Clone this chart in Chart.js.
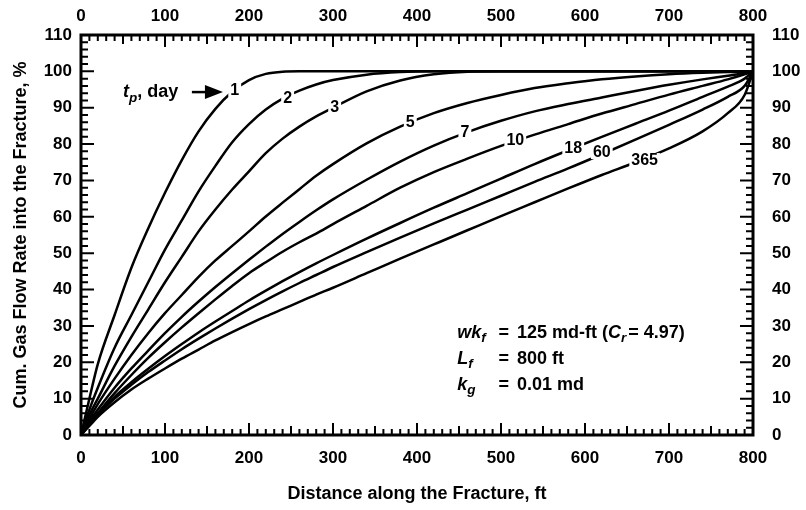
<!DOCTYPE html>
<html>
<head>
<meta charset="utf-8">
<script src="https://cdn.jsdelivr.net/npm/chart.js@4/dist/chart.umd.min.js"></script>
<style>
  html, body { margin: 0; padding: 0; background: #fff; }
  #wrap { width: 806px; height: 510px; }
</style>
</head>
<body>
<div id="wrap"><canvas id="chart" width="806" height="510"></canvas></div>
<script>
// distance along the fracture, ft (shared grid for every curve)
const distanceFt = [0, 10, 20, 40, 60, 80, 100, 120, 140, 160, 180, 200, 220, 240, 260, 280, 300,
  340, 380, 420, 460, 500, 540, 580, 620, 660, 700, 740, 770, 790, 800]

// cumulative gas flow rate into the fracture, % — one array per producing time
const rateDay1 = [0, 10, 19.5, 33, 46, 56.8, 66.6, 75.6, 83.5, 89.7, 94.4, 97.6, 99.3, 99.9, 100, 100, 100,
  100, 100, 100, 100, 100, 100, 100, 100, 100, 100, 100, 100, 100, 100]
const rateDay2 = [0, 7, 13, 24, 33, 42, 51, 59, 67, 74, 80.5, 85.5, 89.5, 92.5, 94.7, 96.4, 97.6,
  99.1, 99.8, 100, 100, 100, 100, 100, 100, 100, 100, 100, 100, 100, 100]
const rateDay3 = [0, 5.5, 10, 19, 27, 34.5, 42, 49, 56, 62, 67.5, 72.5, 77.5, 81.5, 84.8, 87.6, 90,
  94.5, 97.5, 99.2, 99.9, 100, 100, 100, 100, 100, 100, 100, 100, 100, 100]
const rateDay5 = [0, 4.5, 8.5, 15.5, 22, 28, 33.5, 38.5, 43.5, 48, 52, 56, 60.1, 63.9, 67.6, 71.3, 74.5,
  80.2, 84.8, 88.5, 91.3, 93.5, 95.4, 96.7, 97.8, 98.6, 99.2, 99.6, 99.8, 99.9, 100]
const rateDay7 = [0, 3.8, 7, 13, 18.3, 23.2, 28, 32.5, 36.7, 40.7, 44.5, 48.2, 51.8, 55.3, 58.6, 61.8, 64.8,
  70.2, 75.2, 79.6, 83.3, 86.4, 89, 91, 92.8, 94.6, 96.3, 97.8, 98.8, 99.5, 100]
const rateDay10 = [0, 3.2, 6, 11.5, 16.5, 21.2, 25.5, 29.6, 33.5, 37.3, 41, 44.5, 47.5, 50.4, 53, 55.4, 58,
  63, 68, 72.3, 76, 79.5, 82.6, 85.5, 88.4, 91, 93.6, 96, 97.8, 99.2, 100]
const rateDay18 = [0, 3, 5.8, 10.5, 14.5, 18.2, 21.7, 25, 28.2, 31.2, 34.1, 37, 39.7, 42.3, 44.8, 47.2, 49.5,
  54, 58.3, 62.5, 66.5, 70.5, 74.5, 78.3, 82, 85.6, 89.2, 93, 95.8, 98, 100]
const rateDay60 = [0, 2.8, 5.5, 10, 13.8, 17.3, 20.5, 23.6, 26.5, 29.3, 32, 34.6, 37.1, 39.5, 41.8, 44, 46.2,
  50.3, 54.3, 58.2, 62, 65.8, 69.6, 73.3, 77.2, 81.2, 85.3, 89.5, 93, 96, 100]
const rateDay365 = [0, 2.5, 5, 9, 12.5, 15.5, 18.3, 21, 23.5, 26, 28.3, 30.5, 32.6, 34.6, 36.6, 38.6, 40.5,
  44.5, 48.5, 52.4, 56.3, 60.2, 64, 67.8, 71.5, 75, 78.8, 83.5, 88.5, 93.5, 100]

const producingDays = ["1", "2", "3", "5", "7", "10", "18", "60", "365"]
const allRates = [rateDay1, rateDay2, rateDay3, rateDay5, rateDay7, rateDay10, rateDay18, rateDay60, rateDay365]

// where each day label sits on its curve (data units)
const dayLabelX = [183, 246, 302, 392, 457, 517, 586, 620, 671]
const dayLabelY = [94.9, 92.7, 90.2, 86.1, 83.3, 81.1, 79.0, 77.8, 75.6]

const xTickStep = 100
const yTickStep = 10

const FONT = "'Liberation Sans', Arial, sans-serif"

// Builds {x, y} points from the shared grid
const toPoints = (ys) => ys.map((y, i) => ({ x: distanceFt[i], y: y }))

// Draws text made of runs (italic / subscript parts) starting at x
const drawRuns = (ctx, x, y, runs, size) => {
  ctx.textAlign = "left"
  ctx.textBaseline = "middle"
  runs.forEach((r) => {
    const s = r.sub ? size * 0.75 : size
    ctx.font = `${r.italic ? "italic " : ""}bold ${s}px ${FONT}`
    const dy = r.sub ? size * 0.32 : 0
    ctx.fillText(r.text, x, y + dy)
    x += ctx.measureText(r.text).width + (r.gap || 0)
  })
  return x
}

const frameAndTicks = {
  id: "frameAndTicks",
  afterDatasetsDraw(chart) {
    const { ctx, chartArea: a, scales } = chart
    const xs = scales.x
    const ys = scales.y
    ctx.save()

    // day labels on the curves
    ctx.font = `bold 16px ${FONT}`
    ctx.textAlign = "center"
    ctx.textBaseline = "middle"
    producingDays.forEach((d, i) => {
      const px = xs.getPixelForValue(dayLabelX[i])
      const py = ys.getPixelForValue(dayLabelY[i])
      const w = ctx.measureText(d).width
      ctx.fillStyle = "#fff"
      ctx.fillRect(px - w / 2 - 2, py - 7, w + 4, 14)
      ctx.fillStyle = "#000"
      ctx.fillText(d, px, py + 1)
    })

    // t_p, day -> arrow
    const ty = ys.getPixelForValue(94.3)
    let tx = xs.getPixelForValue(50)
    ctx.fillStyle = "#000"
    drawRuns(ctx, tx, ty, [
      { text: "t", italic: true },
      { text: "p", italic: true, sub: true },
      { text: ", day" },
    ], 18)
    const a0 = xs.getPixelForValue(132)
    const a1 = xs.getPixelForValue(169)
    ctx.lineWidth = 2.5
    ctx.strokeStyle = "#000"
    ctx.beginPath()
    ctx.moveTo(a0, ty)
    ctx.lineTo(a1 - 14, ty)
    ctx.stroke()
    ctx.beginPath()
    ctx.moveTo(a1, ty)
    ctx.lineTo(a1 - 18, ty - 7)
    ctx.lineTo(a1 - 18, ty + 7)
    ctx.closePath()
    ctx.fill()

    // parameter block
    const c0 = xs.getPixelForValue(448)
    const c1 = xs.getPixelForValue(497)
    const c2 = xs.getPixelForValue(519)
    const rows = [
      { y: 28.05, name: [{ text: "wk", italic: true }, { text: "f", italic: true, sub: true }],
        rest: [{ text: "125 md-ft (" }, { text: "C", italic: true }, { text: "r", italic: true, sub: true, gap: 2 }, { text: "= 4.97)" }] },
      { y: 20.9, name: [{ text: "L", italic: true }, { text: "f", italic: true, sub: true }],
        rest: [{ text: "800 ft" }] },
      { y: 13.75, name: [{ text: "k", italic: true }, { text: "g", italic: true, sub: true }],
        rest: [{ text: "0.01 md" }] },
    ]
    rows.forEach((r) => {
      const py = ys.getPixelForValue(r.y)
      drawRuns(ctx, c0, py, r.name, 18)
      drawRuns(ctx, c1, py, [{ text: "=" }], 18)
      drawRuns(ctx, c2, py, r.rest, 18)
    })

    // inward tick marks on all four sides
    ctx.lineWidth = 2
    ctx.beginPath()
    for (let v = 0; v <= 800; v += 10) {
      const px = xs.getPixelForValue(v)
      const len = v % 100 === 0 ? 12 : v % 50 === 0 ? 9 : 6
      ctx.moveTo(px, a.bottom)
      ctx.lineTo(px, a.bottom - len)
      ctx.moveTo(px, a.top)
      ctx.lineTo(px, a.top + len)
    }
    for (let v = 0; v <= 110; v += 2) {
      const py = ys.getPixelForValue(v)
      const len = v % 10 === 0 ? 13 : 7
      ctx.moveTo(a.left, py)
      ctx.lineTo(a.left + len, py)
      ctx.moveTo(a.right, py)
      ctx.lineTo(a.right - len, py)
    }
    ctx.stroke()

    // plot frame
    ctx.lineWidth = 3
    ctx.strokeRect(a.left, a.top, a.right - a.left, a.bottom - a.top)
    ctx.restore()
  },
}

const tickFont = { family: FONT, size: 17, weight: "bold" }
const baseTicks = (step, padding) => ({
  stepSize: step,
  autoSkip: false,
  maxRotation: 0,
  color: "#000",
  font: tickFont,
  padding: padding,
})
const noGrid = { display: false, drawTicks: false }

new Chart(document.getElementById("chart"), {
  type: "line",
  data: {
    datasets: allRates.map((r, i) => ({
      label: producingDays[i],
      data: toPoints(r),
      borderColor: "#000",
      borderWidth: 2.5,
      pointRadius: 0,
      fill: false,
      cubicInterpolationMode: "monotone",
    })),
  },
  options: {
    responsive: false,
    animation: false,
    devicePixelRatio: 1,
    layout: { padding: 0 },
    plugins: { legend: { display: false }, tooltip: { enabled: false } },
    scales: {
      x: {
        type: "linear", position: "bottom", min: 0, max: 800,
        ticks: baseTicks(xTickStep, 13),
        grid: noGrid, border: { display: false },
        title: { display: true, text: "Distance along the Fracture, ft", color: "#000",
          font: { family: FONT, size: 18, weight: "bold" }, padding: { top: 0, bottom: 5 } },
        afterFit: (s) => { s.height = 75 },
      },
      xTop: {
        type: "linear", position: "top", min: 0, max: 800,
        ticks: baseTicks(xTickStep, 8),
        grid: noGrid, border: { display: false },
        afterFit: (s) => { s.height = 35 },
      },
      y: {
        type: "linear", position: "left", min: 0, max: 110,
        ticks: baseTicks(yTickStep, 9),
        grid: noGrid, border: { display: false },
        title: { display: true, text: "Cum. Gas Flow Rate into the Fracture, %", color: "#000",
          font: { family: FONT, size: 18, weight: "bold" }, padding: { top: 10, bottom: 0 } },
        afterFit: (s) => { s.width = 81 },
      },
      yRight: {
        type: "linear", position: "right", min: 0, max: 110,
        ticks: baseTicks(yTickStep, 19),
        grid: noGrid, border: { display: false },
        afterFit: (s) => { s.width = 53 },
      },
    },
  },
  plugins: [frameAndTicks],
})
</script>
</body>
</html>
